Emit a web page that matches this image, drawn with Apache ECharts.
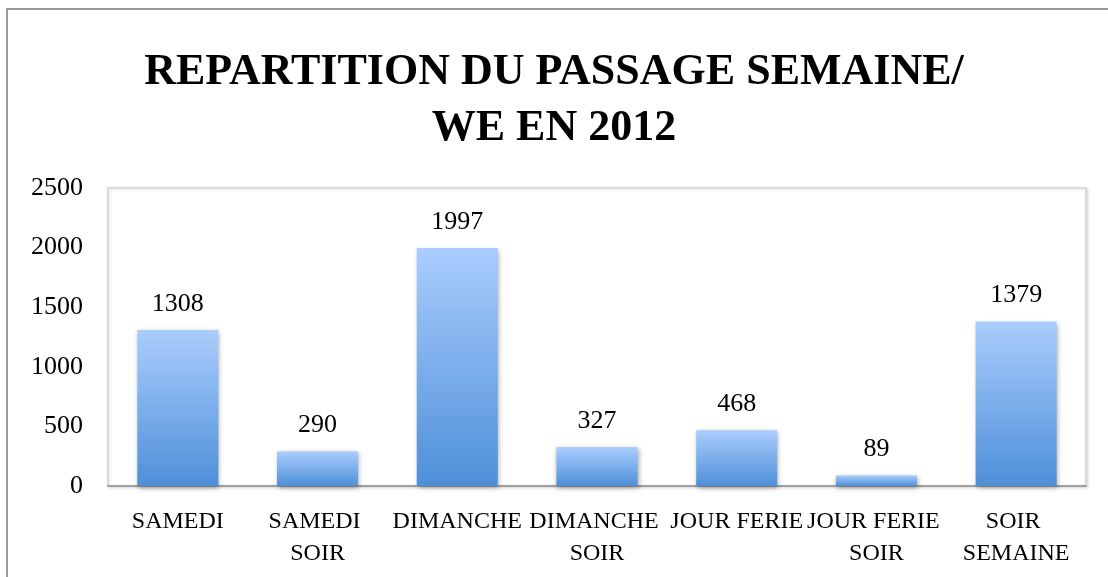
<!DOCTYPE html>
<html>
<head>
<meta charset="utf-8">
<script src="https://cdn.jsdelivr.net/npm/echarts@6/dist/echarts.min.js"></script>
<style>
html,body{margin:0;padding:0;background:#fff;}
#chart{width:1108px;height:577px;}
</style>
</head>
<body>
<div id="chart"></div>
<script>
const titleText = "REPARTITION DU PASSAGE SEMAINE/\nWE EN 2012";
const categories = ["SAMEDI", "SAMEDI SOIR", "DIMANCHE", "DIMANCHE SOIR", "JOUR FERIE", "JOUR FERIE SOIR", "SOIR SEMAINE"];
const values = [1308, 290, 1997, 327, 468, 89, 1379];
const yMin = 0, yMax = 2500, yInterval = 500;

const chart = echarts.init(document.getElementById('chart'), null, {renderer: 'canvas'});
const serif = '"Liberation Serif", "DejaVu Serif", serif';
chart.setOption({
  backgroundColor: '#ffffff',
  animation: false,
  graphic: [{
    type: 'rect', z: -10, silent: true,
    shape: {x: 7, y: 9, width: 1300, height: 800},
    style: {fill: 'none', stroke: '#9a9a9a', lineWidth: 2}
  }],
  title: {
    text: titleText,
    left: 'center',
    top: 40,
    textStyle: {fontFamily: serif, fontWeight: 'bold', fontSize: 44, lineHeight: 56, color: '#000'}
  },
  grid: {
    left: 108, right: 22, top: 188, bottom: 91,
    show: true, borderColor: '#d4d4d4', borderWidth: 1.5,
    shadowColor: 'rgba(0,0,0,0.15)', shadowBlur: 3, shadowOffsetX: 1, shadowOffsetY: 1,
    backgroundColor: '#fff'
  },
  xAxis: {
    type: 'category',
    data: categories,
    axisLine: {lineStyle: {color: '#a0a0a0', width: 2}},
    axisTick: {show: false},
    axisLabel: {
      interval: 0, margin: 20, color: '#000', fontFamily: serif, fontSize: 24, lineHeight: 32,
      width: 139, overflow: 'break'
    }
  },
  yAxis: {
    type: 'value', min: yMin, max: yMax, interval: yInterval,
    axisLine: {show: false}, axisTick: {show: false}, splitLine: {show: false},
    axisLabel: {margin: 25, color: '#000', fontFamily: serif, fontSize: 26,
      formatter: function (v) { return String(v); }}
  },
  series: [{
    type: 'bar',
    data: values,
    barWidth: '58%',
    itemStyle: {
      color: new echarts.graphic.LinearGradient(0, 0, 0, 1, [
        {offset: 0, color: '#aacdfd'},
        {offset: 1, color: '#4e8fd8'}
      ]),
      shadowColor: 'rgba(0,0,0,0.35)', shadowBlur: 5, shadowOffsetX: 1, shadowOffsetY: 2
    },
    label: {show: true, position: 'top', distance: 13, color: '#000', fontFamily: serif, fontSize: 26}
  }]
});
</script>
</body>
</html>
